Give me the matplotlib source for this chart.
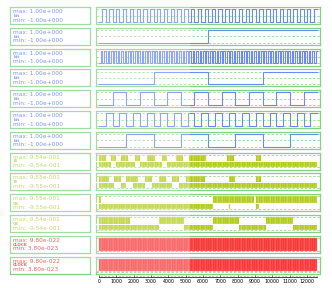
import numpy as np
import matplotlib.pyplot as plt
from matplotlib.patches import Rectangle
from matplotlib.ticker import MultipleLocator

W, H = 332, 288

# sample spacing (128 samples over ~12600)
step = 98.4

names = ["bit", "bit", "bit", "bit", "bit", "bit", "bit",
         "I6", "I6", "Q6", "Q6", "CLOCK", "CLOCK"]
vmax = [1.0, 1.0, 1.0, 1.0, 1.0, 1.0, 1.0,
        0.954, 0.955, 0.955, 0.954, 9.80e-22, 9.80e-22]
vmin = [-1.0, -1.0, -1.0, -1.0, -1.0, -1.0, -1.0,
        -0.954, -0.955, -0.955, -0.954, 3.80e-23, 3.80e-23]

# digital rows, one char per sample
bit_rows = [
    "00110011 00110011 00110011 00110011"
    "00110011 00110011 00110011 00110011"
    "00110011 00110011 00110011 00110011"
    "00110011 00110011 00110011 00110011",
    "00000000 00000000 00000000 00000000"
    "00000000 00000000 00000000 00000000"
    "11111111 11111111 11111111 11111111"
    "11111111 11111111 11111111 11111111",
    "01010101 01010101 01010101 01010101"
    "01010101 01010101 01010101 01010101"
    "01010101 01010101 01010101 01010101"
    "01010101 01010101 01010101 01010101",
    "00000000 00000000 00000000 00000000"
    "11111111 11111111 11111111 11111111"
    "00000000 00000000 00000000 00000000"
    "11111111 11111111 11111111 11111111",
    "00000000 11111111 00000000 11111111"
    "00000000 11111111 00000000 11111111"
    "00000000 11111111 00000000 11111111"
    "00000000 11111111 00000000 11111111",
    "00001111 00001111 00001111 00001111"
    "00001111 00001111 00001111 00001111"
    "00001111 00001111 00001111 00001111"
    "00001111 00001111 00001111 00001111",
    "00000000 00000000 11111111 11111111"
    "00000000 00000000 11111111 11111111"
    "00000000 00000000 11111111 11111111"
    "00000000 00000000 11111111 11111111",
]

# analog rows as runs: u = upper half busy, l = lower half, b = both, n = quiet
iq_runs = [
    [("b", 4), ("l", 3), ("u", 3), ("l", 3), ("b", 4), ("l", 4), ("u", 3), ("l", 4),
     ("b", 5), ("l", 4), ("u", 3), ("l", 5), ("b", 4), ("l", 4), ("b", 10), ("l", 12),
     ("b", 4), ("l", 13), ("b", 3), ("l", 33)],
    [("b", 6), ("l", 3), ("u", 4), ("l", 3), ("u", 4), ("b", 3), ("l", 4), ("u", 4),
     ("l", 4), ("b", 4), ("l", 4), ("u", 4), ("l", 4), ("b", 11), ("l", 14), ("b", 4),
     ("l", 12), ("b", 3), ("l", 33)],
    [("b", 1), ("l", 66), ("u", 9), ("b", 1), ("u", 14), ("n", 1), ("b", 2), ("u", 34)],
    [("b", 18), ("l", 17), ("u", 15), ("l", 17), ("u", 15), ("l", 16), ("u", 16), ("l", 14)],
]
clk_runs = [
    [("b", 128)],
    [("b", 128)],
]

blue, yellow, red = "#6a8cf2", "#a6c300", "#f52a2a"
green = "#86cf86"
text_col = ["#5575e8"] * 7 + ["#b8c848"] * 4 + ["#e23434"] * 2


def fmt(v):
    m, e = f"{v:.2e}".split("e")
    return f"{m}e{int(e):+04d}"


def box(x, y, w, h):
    return [x / W, 1 - (y + h) / H, w / W, h / H]


xlim = (-173, 12752)
fig = plt.figure(figsize=(W / 100, H / 100), dpi=100)

signals = bit_rows + iq_runs + clk_runs
for i in range(13):
    top = 7 + 20.8 * i
    hi, lo = vmax[i], vmin[i]

    lab = fig.add_axes(box(10, top, 80, 17))
    lab.set_xticks([])
    lab.set_yticks([])
    for s in lab.spines.values():
        s.set_color(green)
        s.set_linewidth(0.9)
    lab.text(0.04, 0.74, "max: " + fmt(hi), transform=lab.transAxes,
             fontsize=4.2, color=text_col[i], va="center")
    lab.text(0.04, 0.48, names[i], transform=lab.transAxes,
             fontsize=2.9, color=text_col[i], va="center", fontweight="bold")
    lab.text(0.04, 0.23, "min: " + fmt(lo), transform=lab.transAxes,
             fontsize=4.2, color=text_col[i], va="center")

    ax = fig.add_axes(box(96, top, 224, 17))
    ax.set_xticks([])
    ax.set_yticks([])
    for s in ax.spines.values():
        s.set_color(green)
        s.set_linewidth(0.9)
    pad = 0.17 * (hi - lo)
    ax.set_xlim(*xlim)
    ax.set_ylim(lo - pad, hi + pad)
    for lev in (hi, 0, lo):
        ax.axhline(lev, color="#9ad69a", lw=0.6, ls=(0, (3, 2)), zorder=1)

    sig = signals[i]
    if i < 7:
        bits = np.array([int(c) for c in sig.replace(" ", "")])
        y = lo + bits * (hi - lo)
        x = np.arange(len(y) + 1) * step
        ax.step(x, np.r_[y, y[-1]], where="post", color=blue, lw=0.8, zorder=2)
    else:
        states = "".join(s * n for s, n in sig)
        base = 0 if i < 11 else lo
        bottoms = np.array([{"u": base, "l": lo, "b": lo, "n": base}[c] for c in states])
        tops = np.array([{"u": hi, "l": base, "b": hi, "n": base}[c] for c in states])
        x = np.arange(len(states)) * step
        col = yellow if i < 11 else red
        edge = "#e2ec9c" if i < 11 else "#ff8080"
        ax.bar(x, tops - bottoms, bottom=bottoms, width=step, align="edge",
               color=col, edgecolor=edge, linewidth=0.3, zorder=2)
        if i < 11:
            ax.axhline(0, color="white", lw=0.7, zorder=3)

# shared time axis
axb = fig.add_axes([96 / W, 1 - 277 / H, 224 / W, 0.0001])
axb.set_xlim(*xlim)
for k in ("left", "right", "top"):
    axb.spines[k].set_visible(False)
axb.spines["bottom"].set_bounds(0, 12600)
axb.spines["bottom"].set_linewidth(0.5)
axb.set_yticks([])
axb.set_xticks(range(0, 12001, 1000))
axb.xaxis.set_minor_locator(MultipleLocator(200))
axb.tick_params(axis="x", labelsize=3.4, length=1.6, width=0.4, pad=1.2, direction="in")
axb.tick_params(axis="x", which="minor", length=1.0, width=0.3, direction="in")

# faint veil over the left part of the picture
fig.add_artist(Rectangle((0, 1 - 272 / H), 190 / W, 272 / H, transform=fig.transFigure,
                         facecolor="white", alpha=0.25, edgecolor="none", zorder=10))

fig.savefig("out.png", dpi=100)
